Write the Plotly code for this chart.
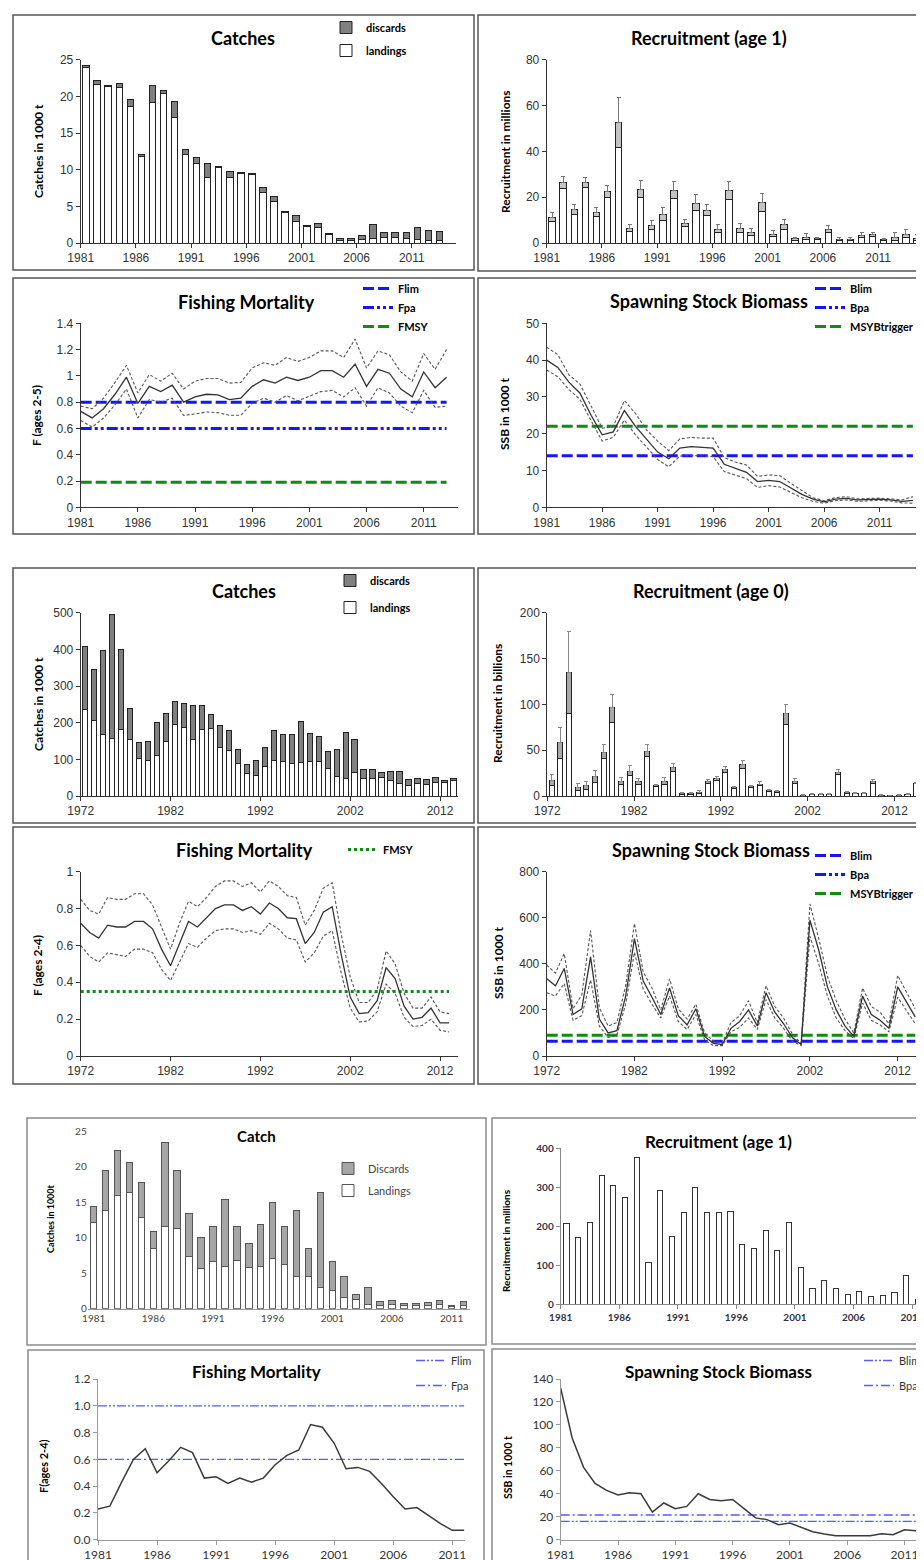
import plotly.graph_objects as go

W, H = 924, 1560

# ================= GROUP 1 (1981-2014) =================
c1_years = list(range(1981, 2014))
c1_landings = [23.9, 21.6, 21.4, 21.2, 18.6, 11.8, 19.1, 20.4, 17.1, 12.1,
               10.8, 9.0, 10.3, 8.9, 9.5, 9.4, 6.95, 5.6, 4.15, 2.9,
               2.25, 2.15, 1.1, 0.4, 0.4, 0.45, 0.6, 0.7, 0.7, 0.6,
               0.45, 0.4, 0.3]
c1_discards = [0.3, 0.6, 0.1, 0.5, 1.0, 0.3, 2.4, 0.4, 2.2, 0.7,
               0.8, 1.9, 0.15, 0.8, 0.1, 0.1, 0.65, 0.75, 0.15, 0.9,
               0.15, 0.45, 0.15, 0.2, 0.2, 0.55, 1.9, 0.7, 0.7, 0.8,
               1.65, 1.3, 1.25]

r1_years = list(range(1981, 2015))
r1_value = [11.2, 26.5, 14.5, 26.5, 13.4, 22.3, 52.8, 6.5, 23.3, 7.6,
            12.4, 22.8, 8.7, 17.3, 14.1, 6.1, 22.8, 6.5, 4.8, 17.5,
            3.9, 7.9, 1.9, 2.6, 1.9, 6.1, 1.7, 1.7, 3.3, 3.6,
            1.5, 2.3, 3.9, 2.0]
r1_low = [9.5, 24.0, 12.3, 24.4, 11.5, 19.8, 41.5, 5.2, 19.8, 5.8,
          10.0, 19.3, 7.3, 14.0, 11.8, 4.6, 19.2, 4.8, 3.4, 13.8,
          2.8, 6.0, 1.3, 1.6, 1.4, 4.8, 1.0, 1.2, 2.4, 2.7,
          1.1, 1.2, 2.4, 0.9]
r1_high = [13.1, 29.1, 17.0, 28.7, 15.7, 25.0, 63.6, 8.0, 27.3, 9.9,
           15.3, 26.9, 10.3, 21.0, 16.7, 8.0, 26.9, 8.7, 6.5, 21.8,
           5.5, 10.2, 2.6, 4.1, 2.4, 7.7, 2.6, 2.2, 4.4, 4.7,
           1.9, 4.4, 6.0, 3.8]

f1_years = list(range(1981, 2014))
f1_est = [0.73, 0.68, 0.75, 0.86, 0.99, 0.79, 0.92, 0.88, 0.93, 0.80,
          0.84, 0.86, 0.855, 0.82, 0.83, 0.92, 0.97, 0.945, 0.99, 0.965,
          0.99, 1.04, 1.04, 0.99, 1.09, 0.92, 1.05, 1.02, 0.90, 0.84,
          1.03, 0.91, 0.99]
f1_high = [0.77, 0.75, 0.83, 0.95, 1.08, 0.87, 1.01, 0.96, 1.02, 0.90,
           0.96, 0.98, 0.98, 0.945, 0.95, 1.06, 1.10, 1.08, 1.14, 1.11,
           1.14, 1.19, 1.19, 1.14, 1.28, 1.06, 1.19, 1.16, 1.03, 0.96,
           1.17, 1.05, 1.20]
f1_low = [0.66, 0.61, 0.68, 0.78, 0.90, 0.68, 0.82, 0.80, 0.83, 0.70,
          0.71, 0.725, 0.72, 0.70, 0.70, 0.79, 0.83, 0.80, 0.85, 0.81,
          0.845, 0.88, 0.89, 0.84, 0.91, 0.77, 0.91, 0.87, 0.77, 0.72,
          0.89, 0.76, 0.77]
f1_ref_span = [1981, 2013]
f1_flim, f1_fpa, f1_fmsy = 0.8, 0.6, 0.19

s1_years = list(range(1981, 2015))
s1_est = [40, 38, 34, 31, 25, 19.7, 20.5, 26.3, 22, 18.5,
          15, 13.2, 16.1, 16.5, 16.3, 16.1, 11.7, 10.5, 9.5, 7.0,
          7.3, 7.0, 5.3, 3.5, 2.2, 1.5, 2.2, 2.4, 2.0, 2.1,
          2.2, 2.0, 1.6, 1.9]
s1_high = [43.5, 41.5, 36, 33.5, 27.5, 21.5, 22, 29, 25.5, 21,
           18, 15.4, 18.6, 19, 18.8, 18.8, 13.5, 12.3, 11.5, 8.4,
           8.8, 8.6, 6.5, 4.5, 2.6, 1.8, 2.6, 2.9, 2.3, 2.4,
           2.5, 2.3, 2.0, 2.9]
s1_low = [37.3, 35.5, 32, 29.3, 23.5, 18, 19, 23.7, 19.7, 16.2,
          13, 11.0, 13.9, 14.1, 14, 13.8, 9.7, 8.7, 7.8, 5.4,
          5.9, 5.5, 4.1, 2.6, 1.6, 1.1, 1.8, 2.0, 1.6, 1.7,
          1.9, 1.7, 1.2, 1.1]
s1_ref_span = [1981, 2014]
s1_blim, s1_msybtrigger = 14, 22

# ================= GROUP 2 (1972-2014) =================
c2_years = list(range(1972, 2014))
c2_landings = [235, 207, 168, 157, 181, 155, 103, 97, 110, 148,
               195, 186, 155, 181, 183, 133, 125, 90, 61, 55,
               80, 97, 95, 88, 92, 95, 93, 75, 53, 47,
               63, 47, 48, 50, 42, 33, 30, 35, 32, 36,
               36, 43]
c2_discards = [174, 138, 229, 338, 219, 85, 42, 51, 90, 78,
               62, 65, 91, 65, 39, 60, 53, 36, 26, 43,
               53, 82, 73, 80, 111, 76, 69, 47, 73, 126,
               91, 26, 25, 14, 26, 34, 16, 13, 14, 15,
               6, 5]

r2_years = list(range(1972, 2015))
r2_value = [17, 58, 135, 9, 11, 21, 48, 97, 16, 27,
            16, 49, 12, 16, 31, 3, 3, 4, 16, 19,
            29, 9, 34, 10, 13, 6, 5, 90, 16, 1,
            2, 2, 2, 26, 4, 3, 3, 16, 1, 0.5,
            1, 2, 14]
r2_low = [11, 41, 90, 6, 7, 15, 41, 80, 13, 22,
          13, 43, 10, 13, 27, 2, 2, 3, 14, 17,
          26, 8, 30, 9, 11, 5, 4, 78, 14, 0.5,
          1.5, 1.5, 1.5, 24, 3, 2.5, 2.5, 14, 0.5, 0.3,
          0.5, 1.5, 13.5]
r2_high = [24, 75, 180, 14, 16, 28, 56, 111, 20, 33,
           19, 56, 13, 20, 35, 4, 4, 6, 18, 21,
           32, 10, 39, 11, 16, 7, 5.5, 100, 19, 2,
           2.5, 2.5, 2.5, 29, 5, 3.5, 3.5, 18, 1.5, 1,
           1.5, 2.5, 14.5]

f2_years = list(range(1972, 2014))
f2_est = [0.72, 0.67, 0.64, 0.71, 0.70, 0.70, 0.73, 0.73, 0.69, 0.58,
          0.49, 0.61, 0.73, 0.70, 0.75, 0.80, 0.82, 0.82, 0.79, 0.81,
          0.77, 0.83, 0.80, 0.75, 0.745, 0.61, 0.67, 0.78, 0.81, 0.55,
          0.32, 0.23, 0.235, 0.30, 0.48, 0.42, 0.27, 0.20, 0.21, 0.26,
          0.18, 0.18]
f2_high = [0.85, 0.79, 0.77, 0.86, 0.85, 0.85, 0.88, 0.88, 0.82, 0.70,
           0.58, 0.72, 0.84, 0.81, 0.86, 0.92, 0.95, 0.95, 0.92, 0.94,
           0.89, 0.95, 0.92, 0.87, 0.86, 0.71, 0.79, 0.91, 0.94, 0.66,
           0.43, 0.29, 0.29, 0.36, 0.57, 0.50, 0.34, 0.26, 0.26, 0.32,
           0.24, 0.23]
f2_low = [0.60, 0.54, 0.51, 0.56, 0.55, 0.54, 0.58, 0.58, 0.56, 0.47,
          0.41, 0.51, 0.61, 0.59, 0.64, 0.68, 0.69, 0.69, 0.67, 0.68,
          0.66, 0.72, 0.69, 0.64, 0.63, 0.51, 0.56, 0.65, 0.68, 0.45,
          0.26, 0.185, 0.19, 0.24, 0.39, 0.34, 0.21, 0.16, 0.165, 0.20,
          0.14, 0.13]
f2_ref_span = [1972, 2013]
f2_fmsy = 0.35

s2_years = list(range(1972, 2015))
s2_est = [335, 305, 380, 180, 205, 430, 160, 100, 110, 260,
          510, 325, 255, 180, 295, 175, 135, 205, 85, 55,
          50, 120, 150, 200, 130, 275, 190, 140, 80, 50,
          590, 460, 300, 200, 130, 85, 260, 180, 155, 120,
          300, 235, 170]
s2_high = [395, 360, 445, 205, 265, 545, 210, 130, 145, 305,
           575, 365, 295, 200, 335, 205, 160, 225, 100, 65,
           55, 145, 175, 240, 145, 305, 215, 165, 95, 55,
           660, 510, 345, 240, 160, 100, 295, 215, 190, 140,
           350, 275, 205]
s2_low = [275, 260, 315, 155, 175, 330, 130, 80, 90, 225,
          450, 290, 225, 165, 260, 150, 115, 180, 70, 45,
          45, 105, 125, 165, 115, 245, 165, 120, 65, 45,
          520, 400, 260, 165, 110, 75, 230, 155, 135, 105,
          255, 195, 140]
s2_ref_span = [1972, 2014]
s2_blim, s2_msybtrigger = 64, 90

# ================= GROUP 3 (1981-2013) =================
c3_years = list(range(1981, 2013))
c3_landings = [12.1, 13.8, 15.9, 16.4, 12.8, 8.4, 11.5, 11.3, 7.4, 5.6,
               6.6, 5.9, 6.8, 5.8, 5.9, 7.0, 6.2, 4.5, 4.5, 3.0,
               2.5, 1.6, 1.3, 0.6, 0.5, 0.6, 0.4, 0.4, 0.5, 0.6,
               0.3, 0.5]
c3_discards = [2.3, 5.6, 6.4, 4.1, 4.9, 2.5, 11.9, 8.2, 6.0, 4.4,
               4.9, 9.4, 4.8, 3.4, 6.0, 8.0, 5.3, 9.3, 4.0, 13.3,
               4.1, 2.9, 0.7, 2.4, 0.45, 0.6, 0.3, 0.3, 0.35, 0.55,
               0.15, 0.5]

r3_years = list(range(1981, 2013))
r3_value = [207, 172, 210, 330, 304, 273, 377, 107, 291, 175,
            235, 300, 235, 235, 238, 153, 144, 188, 138, 209,
            94, 41, 60, 41, 26, 32, 19, 22, 31, 75,
            12, 34]

f3_years = list(range(1981, 2013))
f3_est = [0.23, 0.25, 0.43, 0.60, 0.68, 0.50, 0.59, 0.69, 0.65, 0.46,
          0.47, 0.42, 0.46, 0.43, 0.46, 0.56, 0.63, 0.67, 0.86, 0.84,
          0.72, 0.53, 0.54, 0.51, 0.42, 0.32, 0.23, 0.24, 0.18, 0.12,
          0.07, 0.07]
f3_ref_span = [1981, 2012]
f3_flim, f3_fpa = 1.0, 0.6

s3_years = list(range(1981, 2014))
s3_est = [132, 88.6, 63, 49, 43, 39, 41, 40, 24, 32,
          27, 29, 40, 35, 34, 35, 27, 19, 17.5, 13,
          14.5, 11, 7, 5, 3.5, 3.5, 3.5, 3.5, 5.2, 4.4,
          8.7, 7.8, 7.8]
s3_ref_span = [1981, 2013.4]
s3_blim, s3_bpa = 16, 21.5

# ================= FIGURE =================
fig = go.Figure()
L = dict(width=W, height=H, margin=dict(l=0, r=0, t=0, b=0, autoexpand=False),
         paper_bgcolor='white', plot_bgcolor='rgba(0,0,0,0)', barmode='stack',
         showlegend=True, annotations=[], shapes=[], hovermode=False)

BLUE = '#1414ff'
GREEN = '#138a13'
LBLUE = '#5a5aff'
TF = 'Lato, Carlito, sans-serif'
ARIAL = 'Liberation Sans, Arial, sans-serif'


def sfx(n):
    return '' if n == 1 else str(n)


def axes(n, x0, x1, ytop, ybot, xr, xt, yr, yt, tf, ytext=None,
         lc='#333333', yline=True, xticks='outside', yticks='outside'):
    s = sfx(n)
    L['xaxis' + s] = dict(domain=[x0 / W, x1 / W], anchor='y' + s, range=xr,
                          tickmode='array', tickvals=xt, ticktext=[str(v) for v in xt],
                          showgrid=False, zeroline=False, showline=True, linecolor=lc,
                          linewidth=1, ticks=xticks, ticklen=4, tickcolor=lc,
                          tickfont=tf, fixedrange=True)
    L['yaxis' + s] = dict(domain=[1 - ybot / H, 1 - ytop / H], anchor='x' + s, range=yr,
                          tickmode='array', tickvals=yt,
                          ticktext=ytext if ytext else ['{:g}'.format(v) for v in yt],
                          showgrid=False, zeroline=False, showline=yline, linecolor=lc,
                          linewidth=1, ticks=yticks if yline else '', ticklen=4,
                          tickcolor=lc, tickfont=tf, fixedrange=True)


def bar(n, x, y, color, name=None, legend=None, width=0.6, offset=0.2,
        line='#222222', lw=1, error=None, rank=None):
    s = sfx(n)
    kw = dict(x=x, y=y, xaxis='x' + s, yaxis='y' + s, width=width,
              marker=dict(color=color, line=dict(color=line, width=lw)),
              showlegend=name is not None)
    if offset is not None:
        kw['offset'] = offset
    if name:
        kw.update(name=name, legend=legend, legendgroup=name)
    if rank is not None:
        kw['legendrank'] = rank
    if error:
        kw['error_y'] = error
    fig.add_trace(go.Bar(**kw))


def line(n, x, y, color, width, dash='solid', name=None, legend=None):
    s = sfx(n)
    kw = dict(x=x, y=y, xaxis='x' + s, yaxis='y' + s, mode='lines',
              line=dict(color=color, width=width, dash=dash),
              showlegend=name is not None)
    if name:
        kw.update(name=name, legend=legend, legendgroup=name)
    fig.add_trace(go.Scatter(**kw))


def legend_only(n, color, width, dash, name, legend):
    s = sfx(n)
    fig.add_trace(go.Scatter(x=[None], y=[None], xaxis='x' + s, yaxis='y' + s,
                             mode='lines', line=dict(color=color, width=width, dash=dash),
                             name=name, legend=legend, legendgroup=name))


def text(x, y, s, size, family=TF, weight='bold', color='#000000', angle=0):
    L['annotations'].append(dict(x=x / W, y=1 - y / H, xref='paper', yref='paper',
                                 text=s, showarrow=False, textangle=angle,
                                 font=dict(size=size, family=family, color=color, weight=weight),
                                 xanchor='center', yanchor='middle'))


def box(x0, y0, x1, y1, color='#555555', width=1.5):
    L['shapes'].append(dict(type='rect', xref='paper', yref='paper',
                            x0=x0 / W, x1=x1 / W, y0=1 - y1 / H, y1=1 - y0 / H,
                            line=dict(color=color, width=width), fillcolor='rgba(0,0,0,0)',
                            layer='above'))


def leg(key, x, y, size, family=TF, weight='bold', order='grouped', gap=0, color='#000000'):
    L[key] = dict(x=x / W, y=1 - y / H, xanchor='left', yanchor='top',
                  bgcolor='rgba(0,0,0,0)', borderwidth=0, traceorder=order,
                  tracegroupgap=gap, itemwidth=30, itemclick=False, itemdoubleclick=False,
                  font=dict(size=size, family=family, weight=weight, color=color))


tf12 = dict(size=12, family=ARIAL, color='#333333')
CI = '3px,2px'
REFDASH = '11px,4px'
DOTDOT = '11px,3px,3px,3px,3px,3px'

# ---------- Group 1 ----------
box(5, 7, 466, 262)
box(470, 7, 922, 263)
box(5, 270, 466, 526)
box(470, 270, 922, 526)

axes(1, 72.7, 448, 51.7, 235, [1981, 2015], list(range(1981, 2012, 5)),
     [0, 25], [0, 5, 10, 15, 20, 25], tf12)
bar(1, c1_years, c1_landings, 'white', 'landings', 'legend', rank=2)
bar(1, c1_years, c1_discards, '#808080', 'discards', 'legend', rank=1)
leg('legend', 318, 5, 11, gap=4)
text(235, 30, 'Catches', 18)
text(30, 143, 'Catches in 1000 t', 12, angle=-90)

axes(2, 538.7, 914.3, 51.7, 235, [1981, 2015], list(range(1981, 2012, 5)),
     [0, 80], [0, 20, 40, 60, 80], tf12)
bar(2, r1_years, r1_low, 'white')
bar(2, r1_years, [v - lo for v, lo in zip(r1_value, r1_low)], '#c4c4c4',
    error=dict(type='data', symmetric=False,
               array=[h - v for h, v in zip(r1_high, r1_value)],
               arrayminus=[0] * len(r1_value), color='#777777', thickness=1, width=2))
text(701, 30, 'Recruitment (age 1)', 18)
text(497, 143, 'Recruitment in millions', 12, angle=-90)

axes(3, 72.7, 450, 315.3, 499.3, [1981, 2014], list(range(1981, 2012, 5)),
     [0, 1.4], [0, 0.2, 0.4, 0.6, 0.8, 1, 1.2, 1.4], tf12)
line(3, f1_ref_span, [f1_flim] * 2, BLUE, 3, REFDASH, 'Flim', 'legend2')
line(3, f1_ref_span, [f1_fpa] * 2, BLUE, 3, DOTDOT, 'Fpa', 'legend2')
line(3, f1_ref_span, [f1_fmsy] * 2, GREEN, 3, REFDASH, 'FMSY', 'legend2')
line(3, f1_years, f1_high, '#555555', 1.1, CI)
line(3, f1_years, f1_low, '#555555', 1.1, CI)
line(3, f1_years, f1_est, '#333333', 1.3)
leg('legend2', 350, 266, 11)
text(238, 294, 'Fishing Mortality', 18)
text(29, 408, 'F (ages 2-5)', 12, angle=-90)

axes(4, 538.7, 916, 315.3, 499.3, [1981, 2015], list(range(1981, 2012, 5)),
     [0, 50], [0, 10, 20, 30, 40, 50], tf12)
line(4, s1_ref_span, [s1_blim] * 2, BLUE, 3, REFDASH, 'Blim', 'legend3')
legend_only(4, BLUE, 3, DOTDOT, 'Bpa', 'legend3')
line(4, s1_ref_span, [s1_msybtrigger] * 2, GREEN, 3, REFDASH, 'MSYBtrigger', 'legend3')
line(4, s1_years, s1_high, '#555555', 1.1, CI)
line(4, s1_years, s1_low, '#555555', 1.1, CI)
line(4, s1_years, s1_est, '#333333', 1.3)
leg('legend3', 802, 266, 11)
text(701, 293, 'Spawning Stock Biomass', 18)
text(497, 406, 'SSB in 1000 t', 12, angle=-90)

# ---------- Group 2 ----------
box(5, 560, 466, 815)
box(470, 560, 922, 815)
box(5, 819, 466, 1076)
box(470, 819, 922, 1076)

axes(5, 72.7, 450, 604.7, 788, [1972, 2014], list(range(1972, 2013, 10)),
     [0, 500], [0, 100, 200, 300, 400, 500], tf12)
bar(5, c2_years, c2_landings, 'white', 'landings', 'legend4', rank=2)
bar(5, c2_years, c2_discards, '#808080', 'discards', 'legend4', rank=1)
leg('legend4', 322, 558, 11, gap=8)
text(236, 583, 'Catches', 18)
text(30, 696, 'Catches in 1000 t', 12, angle=-90)

axes(6, 539.3, 916, 604.7, 788, [1972, 2015.4], list(range(1972, 2013, 10)),
     [0, 200], [0, 50, 100, 150, 200], tf12)
bar(6, r2_years, r2_low, 'white')
bar(6, r2_years, [v - lo for v, lo in zip(r2_value, r2_low)], '#a8a8a8',
    error=dict(type='data', symmetric=False,
               array=[h - v for h, v in zip(r2_high, r2_value)],
               arrayminus=[0] * len(r2_value), color='#888888', thickness=1, width=2))
text(703, 583, 'Recruitment (age 0)', 18)
text(489, 696, 'Recruitment in billions', 12, angle=-90)

axes(7, 72.7, 450, 863.7, 1048, [1972, 2014], list(range(1972, 2013, 10)),
     [0, 1], [0, 0.2, 0.4, 0.6, 0.8, 1], tf12)
line(7, f2_ref_span, [f2_fmsy] * 2, GREEN, 3, 'dot', 'FMSY', 'legend5')
line(7, f2_years, f2_high, '#555555', 1.1, CI)
line(7, f2_years, f2_low, '#555555', 1.1, CI)
line(7, f2_years, f2_est, '#333333', 1.3)
leg('legend5', 335, 827, 11)
text(236, 842, 'Fishing Mortality', 18)
text(29, 958, 'F (ages 2-4)', 12, angle=-90)

axes(8, 538.7, 916, 863.7, 1048, [1972, 2015], list(range(1972, 2013, 10)),
     [0, 800], [0, 200, 400, 600, 800], tf12)
line(8, s2_ref_span, [s2_blim] * 2, BLUE, 3, REFDASH, 'Blim', 'legend6')
legend_only(8, BLUE, 3, DOTDOT, 'Bpa', 'legend6')
line(8, s2_ref_span, [s2_msybtrigger] * 2, GREEN, 3, REFDASH, 'MSYBtrigger', 'legend6')
line(8, s2_years, s2_high, '#555555', 1.1, CI)
line(8, s2_years, s2_low, '#555555', 1.1, CI)
line(8, s2_years, s2_est, '#333333', 1.3)
leg('legend6', 802, 833, 11)
text(703, 842, 'Spawning Stock Biomass', 18)
text(490, 955, 'SSB in 1000 t', 12, angle=-90)

# ---------- Group 3 ----------
G3BOX = '#8c8c8c'
box(19, 1110, 478, 1337, G3BOX)
box(484, 1110, 940, 1336, G3BOX)
box(20, 1342, 476, 1575, G3BOX)
box(484, 1341, 940, 1575, G3BOX)

tf_c3 = dict(size=10, family=TF, color='#444444')
axes(9, 79.7, 461.5, 1123, 1300.7, [1980.5, 2012.5], list(range(1981, 2012, 5)),
     [0, 25], [0, 5, 10, 15, 20, 25], tf_c3, lc='#999999', yline=False, xticks='')
bar(9, c3_years, c3_landings, 'white', 'Landings', 'legend7', width=0.55, offset=None,
    line='#555555', rank=2)
bar(9, c3_years, c3_discards, '#a6a6a6', 'Discards', 'legend7', width=0.55, offset=None,
    line='#555555', rank=1)
leg('legend7', 320, 1146, 11, weight='normal', gap=3, color='#444444')
text(248, 1128, 'Catch', 15)
text(42, 1211, 'Catches in 1000t', 9, angle=-90)

tf_r3 = dict(size=10, family=TF, color='#333344', weight='bold')
axes(10, 552.7, 924, 1140.3, 1296.3, [1981, 2012.7], list(range(1981, 2012, 5)),
     [0, 400], [0, 100, 200, 300, 400], tf_r3, lc='#888888')
bar(10, r3_years, r3_value, 'white', width=0.44, offset=0.28, line='#333333')
text(710, 1133, 'Recruitment (age 1)', 17)
text(498, 1233, 'Recruitment in millions', 10, angle=-90)

tf_f3 = dict(size=12, family=TF, color='#333333')
axes(11, 90, 457.3, 1371, 1531.7, [1981, 2012.1], list(range(1981, 2012, 5)),
     [0, 1.2], [0, 0.2, 0.4, 0.6, 0.8, 1.0, 1.2], tf_f3,
     ytext=['0.0', '0.2', '0.4', '0.6', '0.8', '1.0', '1.2'], lc='#999999')
line(11, f3_ref_span, [f3_flim] * 2, LBLUE, 1.3, '9px,2px,2px,2px,2px,2px', 'Flim', 'legend8')
line(11, f3_ref_span, [f3_fpa] * 2, LBLUE, 1.3, '9px,3px,2px,3px', 'Fpa', 'legend8')
line(11, f3_years, f3_est, '#3a3a3a', 1.5)
leg('legend8', 403, 1338, 11, weight='normal', gap=6, color='#333333')
text(248, 1363, 'Fishing Mortality', 17)
text(35, 1458, 'F(ages 2-4)', 11, angle=-90)

axes(12, 552.7, 924, 1371, 1531.7, [1981, 2013.4], list(range(1981, 2012, 5)),
     [0, 140], [0, 20, 40, 60, 80, 100, 120, 140], tf_f3, lc='#999999')
line(12, s3_ref_span, [s3_bpa] * 2, LBLUE, 1.3, '9px,3px,2px,3px', None)
line(12, s3_ref_span, [s3_blim] * 2, LBLUE, 1.3, '9px,2px,2px,2px,2px,2px', None)
legend_only(12, LBLUE, 1.3, '9px,2px,2px,2px,2px,2px', 'Blim', 'legend9')
legend_only(12, LBLUE, 1.3, '9px,3px,2px,3px', 'Bpa', 'legend9')
line(12, s3_years, s3_est, '#3a3a3a', 1.5)
leg('legend9', 851, 1338, 11, weight='normal', gap=6, color='#333333')
text(710, 1363, 'Spawning Stock Biomass', 17)
text(500, 1460, 'SSB in 1000 t', 10.5, angle=-90)

fig.update_layout(**L)
fig.write_html('out.html')
